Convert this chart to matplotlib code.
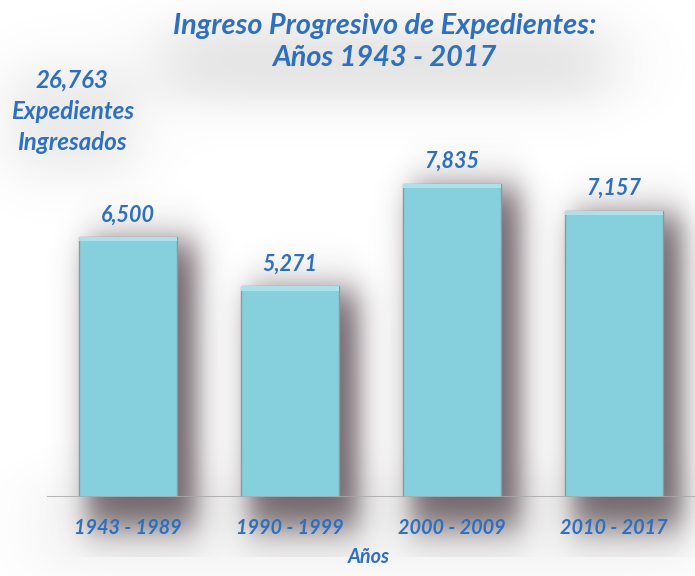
import numpy as np
import matplotlib.pyplot as plt
from matplotlib.patches import Rectangle

periods = ["1943 - 1989", "1990 - 1999", "2000 - 2009", "2010 - 2017"]
expedientes = [6500, 5271, 7835, 7157]
total_label = "26,763"
title_lines = ["Ingreso Progresivo de Expedientes:", "Años 1943 - 2017"]

BLUE = "#2f6fbf"
BAR = "#86cfdc"
FONT = ["Lato", "DejaVu Sans"]


def soft_box(t, a, b, s):
    return 0.5 * (np.tanh((t - a) / s) - np.tanh((t - b) / s))


fig = plt.figure(figsize=(6.95, 5.76), dpi=100)

# background with faint grey clouds behind the texts
bg = fig.add_axes([0, 0, 1, 1], zorder=-5)
bg.set_xlim(0, 695)
bg.set_ylim(576, 0)
bg.axis("off")
gx, gy = np.meshgrid(np.arange(695), np.arange(576))
cloud = np.zeros_like(gx, dtype=float)
cloud += 0.20 * soft_box(gx, 160, 610, 40) * soft_box(gy, 25, 100, 25)
cloud += 0.16 * soft_box(gx, 10, 135, 30) * soft_box(gy, 70, 170, 30)
cloud += 0.10 * soft_box(gx, 40, 695, 40) * soft_box(gy, 480, 570, 25)
cloud = np.clip(cloud, 0, 1)
rgba = np.zeros((576, 695, 4))
rgba[..., :3] = 0.45
rgba[..., 3] = cloud
bg.imshow(rgba, extent=(0, 695, 576, 0), aspect="auto", interpolation="bilinear")

ax = fig.add_axes([0.0676, 0.1372, 0.9324, 0.6944])
x = np.arange(len(periods))
width = 0.61

# soft blurred shadows behind each bar
for xi, h in zip(x, expedientes):
    sx0, sx1 = xi - width / 2 - 0.25, xi + width / 2 + 0.45
    sy0, sy1 = -1500, h + 1500
    EX, EY = np.meshgrid(np.linspace(sx0, sx1, 160), np.linspace(sy0, sy1, 240))
    a = soft_box(EX, xi - width / 2 + 0.05, xi + width / 2 + 0.12, 0.10)
    a *= soft_box(EY, -800, h - 100, 550)
    sh = np.zeros(EX.shape + (4,))
    sh[..., 0] = 0.28
    sh[..., 1] = 0.22
    sh[..., 2] = 0.25
    sh[..., 3] = 0.78 * np.clip(a, 0, 1)
    ax.imshow(sh, extent=(sx0, sx1, sy0, sy1), origin="lower", aspect="auto",
              zorder=1, clip_on=False, interpolation="bilinear")

ax.set_xlim(-0.5, 3.5)
ax.set_ylim(0, 10000)

ax.bar(x, expedientes, width=width, color=BAR, edgecolor="#8a9aa0",
       linewidth=1.0, zorder=3)
# light bevel on top of each bar
for xi, h in zip(x, expedientes):
    ax.add_patch(Rectangle((xi - width / 2, h - 110), width, 110,
                           facecolor="#ade1ea", edgecolor="none", zorder=4))

for xi, h in zip(x, expedientes):
    ax.text(xi, h + 290, f"{h:,}", ha="center", va="bottom", color=BLUE,
            fontsize=15.5, fontweight="bold", fontstyle="italic", family=FONT,
            zorder=5)

ax.axhline(0, color="#a9a9a9", linewidth=1.2, zorder=4)
for s in ax.spines.values():
    s.set_visible(False)
ax.set_yticks([])
ax.set_xticks(x)
ax.set_xticklabels(periods, color=BLUE, fontsize=14.3, fontweight="bold",
                   fontstyle="italic", family=FONT)
ax.tick_params(axis="x", length=0, pad=15)
ax.set_xlabel("Años", color=BLUE, fontsize=14.3, fontweight="bold",
              fontstyle="italic", family=FONT)
ax.xaxis.set_label_coords(0.497, -0.125)
ax.patch.set_alpha(0)

fig.text(0.553, 0.955, title_lines[0], ha="center", va="center", color=BLUE,
         fontsize=20.8, fontweight="bold", fontstyle="italic", family=FONT)
fig.text(0.553, 0.899, title_lines[1], ha="center", va="center", color=BLUE,
         fontsize=20.8, fontweight="bold", fontstyle="italic", family=FONT)
fig.text(0.104, 0.807, f"{total_label}\nExpedientes\nIngresados", ha="center",
         va="center", color=BLUE, fontsize=17.3, fontweight="bold",
         fontstyle="italic", family=FONT, linespacing=1.42)

fig.savefig("out.png", dpi=100)
